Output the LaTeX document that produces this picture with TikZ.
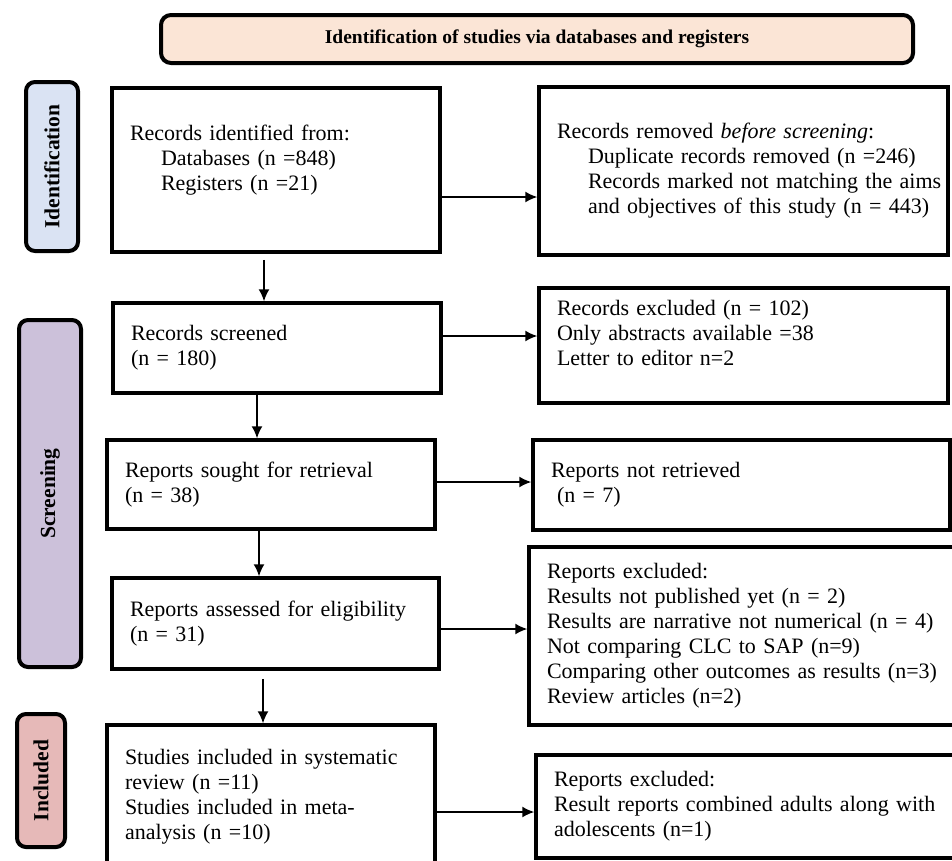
\documentclass[tikz,border=0pt]{standalone}
\usepackage{fontspec}
\setmainfont{Liberation Serif}
\usetikzlibrary{arrows.meta,calc}
\definecolor{hdrfill}{HTML}{FBE5D6}
\definecolor{idfill}{HTML}{DAE3F3}
\definecolor{scrfill}{HTML}{CCC1DA}
\definecolor{incfill}{HTML}{E6B9B8}
\newcommand\indt{\hspace*{31pt}}
\begin{document}
\begin{tikzpicture}[x=1pt,y=-1pt,
  box/.style={draw, line width=3.5pt, rectangle, inner xsep=18pt, inner ysep=0pt,
    align=left, font=\fontsize{22}{25}\selectfont},
  phase/.style={draw, line width=4pt, rounded corners=9pt, rotate=90, inner sep=0pt,
    font=\bfseries\fontsize{21.5}{25}\selectfont},
  arr/.style={line width=1.5pt, -{Latex[length=12pt,width=11pt]}}
]
\useasboundingbox (0,0) rectangle (952,860);
\clip (0,0) rectangle (952,860);

% header
\node[draw, line width=4pt, rounded corners=10pt, fill=hdrfill, minimum width=752pt,
  minimum height=48pt, inner sep=0pt, font=\bfseries\fontsize{19.5}{23}\selectfont]
  (hdr) at (537,39) {Identification of studies via databases and registers};

% phase labels
\node[phase, fill=idfill, minimum width=169pt, minimum height=52pt] (pid) at (52,166.5) {Identification};
\node[phase, fill=scrfill, minimum width=347pt, minimum height=62pt] (pscr) at (50,493.5) {Screening};
\node[phase, fill=incfill, minimum width=133pt, minimum height=48pt] (pinc) at (41,780.5) {Included};

% boxes
\node[box, text width=292pt, minimum height=164pt] (b1) at (276,170)
  {\mbox{Records identified from:}\\\mbox{\indt Databases (n =848)}\\\mbox{\indt Registers (n =21)}\\\mbox{}};
\node[box, text width=373pt, minimum height=168pt] (b2) at (743.5,171)
  {\mbox{Records removed \textit{before screening}:}\\\mbox{\indt Duplicate records removed (n =246)}\\\mbox{\indt Records marked not matching the aims}\\\mbox{\indt and objectives of this study (n = 443)}};
\node[box, text width=292pt, minimum height=90pt] (b3) at (277,348)
  {\mbox{Records screened}\\\mbox{(n = 180)}};
\node[box, text width=373pt, minimum height=115pt] (b4) at (743.5,345.5)
  {\mbox{Records excluded (n = 102)}\\\mbox{Only abstracts available =38}\\\mbox{Letter to editor n=2}\\\mbox{}};
\node[box, text width=292pt, minimum height=89pt] (b5) at (271,484.5)
  {\mbox{Reports sought for retrieval}\\\mbox{(n = 38)}};
\node[box, text width=381pt, minimum height=90pt] (b6) at (741.5,485)
  {\mbox{Reports not retrieved}\\\mbox{\hspace*{6pt}(n = 7)}};
\node[box, text width=291pt, minimum height=91pt] (b7) at (275.5,623.5)
  {\mbox{Reports assessed for eligibility}\\\mbox{(n = 31)}};
\node[box, text width=393pt, minimum height=178pt] (b8) at (743.5,636)
  {\mbox{Reports excluded:}\\\mbox{Results not published yet (n = 2)}\\\mbox{Results are narrative not numerical (n = 4)}\\\mbox{Not comparing CLC to SAP (n=9)}\\\mbox{Comparing other outcomes as results (n=3)}\\\mbox{Review articles (n=2)}};
\node[box, text width=292pt, minimum height=143pt] (b9) at (271,796.5)
  {\mbox{Studies included in systematic}\\\mbox{review (n =11)}\\\mbox{Studies included in meta-}\\\mbox{analysis (n =10)}};
\node[box, text width=386pt, minimum height=103pt] (b10) at (747,806.5)
  {\mbox{Reports excluded:}\\\mbox{Result reports combined adults along with}\\\mbox{adolescents (n=1)}};

% connectors
\draw[arr] (b1.east |- 0,197) -- (b2.west |- 0,197);
\coordinate (a2s) at ($(b1.south -| 264,0)+(0,6)$);
\draw[arr] (a2s) -- (b3.north -| a2s);
\draw[arr] (b3.east |- 0,336) -- (b4.west |- 0,336);
\draw[arr] (b3.south -| 257,0) -- (b5.north -| 257,0);
\draw[arr] (b5.east |- 0,482) -- (b6.west |- 0,482);
\draw[arr] (b5.south -| 259,0) -- (b7.north -| 259,0);
\draw[arr] (b7.east |- 0,629) -- (b8.west |- 0,629);
\coordinate (a8s) at ($(b7.south -| 263,0)+(0,8)$);
\draw[arr] (a8s) -- (b9.north -| a8s);
\draw[arr] (b9.east |- 0,812) -- (b10.west |- 0,812);
\end{tikzpicture}
\end{document}
